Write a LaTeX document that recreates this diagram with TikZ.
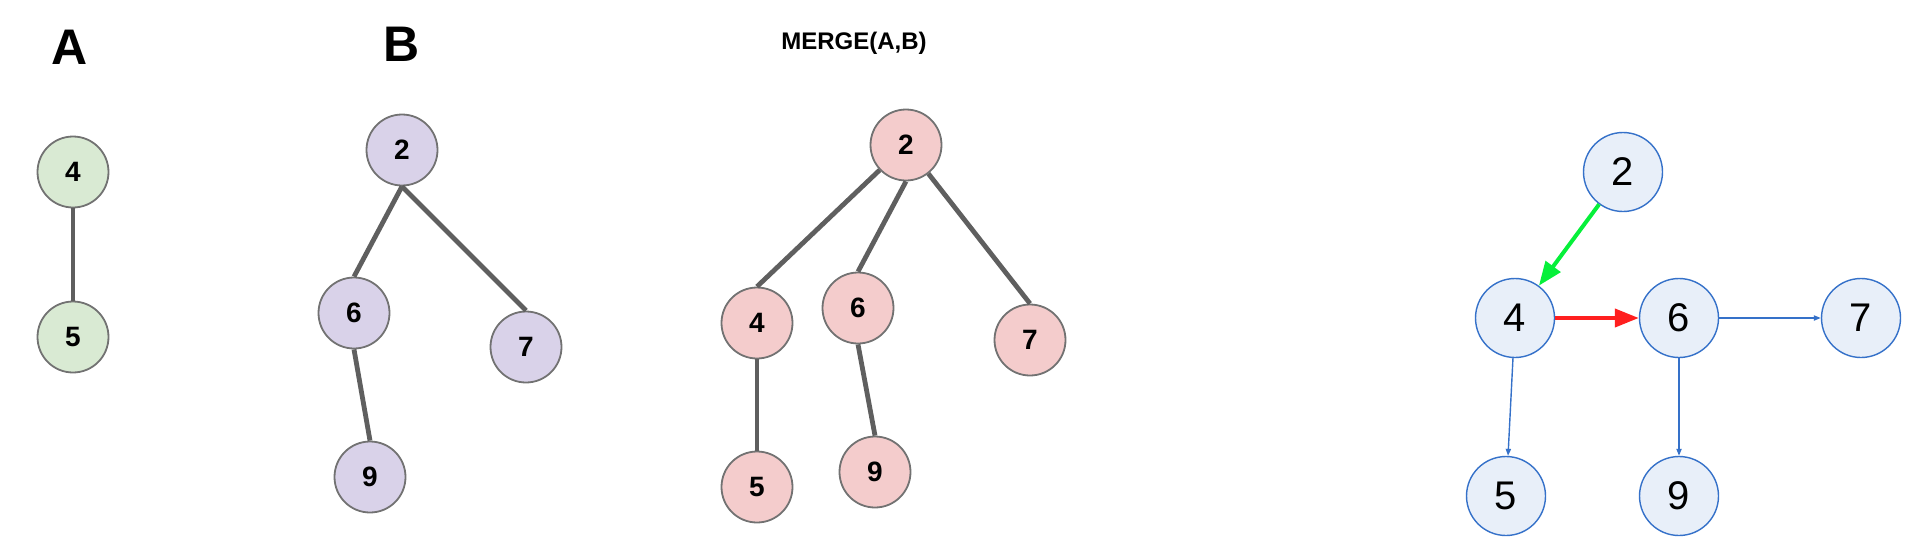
\documentclass[tikz,border=0pt]{standalone}
\usepackage{fontspec}
\setmainfont{Liberation Sans}
\usetikzlibrary{arrows.meta}

\definecolor{agreen}{HTML}{D9EAD3}
\definecolor{bpurple}{HTML}{D9D2E9}
\definecolor{mpink}{HTML}{F4CCCC}
\definecolor{rfill}{HTML}{E8EFF9}
\definecolor{rblue}{HTML}{3571C9}
\definecolor{nodegray}{HTML}{727272}
\definecolor{edgegray}{HTML}{5F5F5F}
\definecolor{newgreen}{HTML}{06F03A}
\definecolor{newred}{HTML}{FF1F1F}

\begin{document}
\begin{tikzpicture}[x=0.5pt,y=-0.5pt,
	treenode/.style={circle, draw=nodegray, line width=0.9pt, minimum size=35.5pt,
		inner sep=0pt, font=\bfseries\fontsize{14}{14}\selectfont},
	anode/.style={treenode, fill=agreen},
	bnode/.style={treenode, fill=bpurple},
	mnode/.style={treenode, fill=mpink},
	rnode/.style={circle, draw=rblue, fill=rfill, line width=0.7pt, minimum size=39.5pt,
		inner sep=0pt, font=\fontsize{20}{20}\selectfont},
	treeedge/.style={draw=edgegray, line width=2.4pt},
	thinarrow/.style={draw=rblue, line width=0.7pt, -{Triangle[length=3.5pt,width=2.6pt]}},
	thickarrow/.style={line width=2pt, -{Triangle[length=12pt,width=9pt]}}]

% frame %{{{2

	\useasboundingbox (0,0) rectangle (1922,552);

% tree A %{{{2

	\foreach \n/\x/\y in {4/73/172, 5/73/337} {
		\node[anode] (A\n) at (\x,\y) {\n};
	}

	\draw[treeedge] (A4.south) -- (A5.north);

% tree B %{{{2

	\foreach \n/\x/\y in {2/402/150, 6/354/313, 7/526/347, 9/370/477} {
		\node[bnode] (B\n) at (\x,\y) {\n};
	}

	\draw[treeedge] (B2.south) -- (B6.north);
	\draw[treeedge] (B2.south) -- (B7.north);
	\draw[treeedge] (B6.south) -- (B9.north);

% merged tree %{{{2

	\foreach \n/\x/\y in {2/906/145, 4/757/323, 6/858/308, 7/1030/340, 5/757/487, 9/875/472} {
		\node[mnode] (M\n) at (\x,\y) {\n};
	}

	\draw[treeedge] (M2) -- (M4.north);
	\draw[treeedge] (M2.south) -- (M6.north);
	\draw[treeedge] (M2) -- (M7.north);
	\draw[treeedge] (M4.south) -- (M5.north);
	\draw[treeedge] (M6.south) -- (M9.north);

% linked view %{{{2

	\foreach \n/\x/\y in {2/1623/172, 4/1515/318, 6/1679/318, 7/1861/318, 5/1506/496, 9/1679/496} {
		\node[rnode] (R\n) at (\x,\y) {\n};
	}

	\draw[thickarrow, draw=newgreen, fill=newgreen] (R2) -- (R4);
	\draw[thickarrow, draw=newred, fill=newred] (R4) -- (R6);

	\draw[thinarrow] (R6) -- (R7);
	\draw[thinarrow] (R6) -- (R9);
	\draw[thinarrow] (R4) -- (R5);

% titles %{{{2

	\node[font=\bfseries\fontsize{25}{25}\selectfont, inner sep=0pt] (titleA) at (70,47) {A};
	\node[font=\bfseries\fontsize{25}{25}\selectfont, inner sep=0pt] (titleB) at (402,44) {B};
	\node[font=\bfseries\fontsize{12}{12}\selectfont, inner sep=0pt, anchor=base] (titleM) at (854,49) {MERGE(A,B)};

% closing %{{{2

\end{tikzpicture}
\end{document}
